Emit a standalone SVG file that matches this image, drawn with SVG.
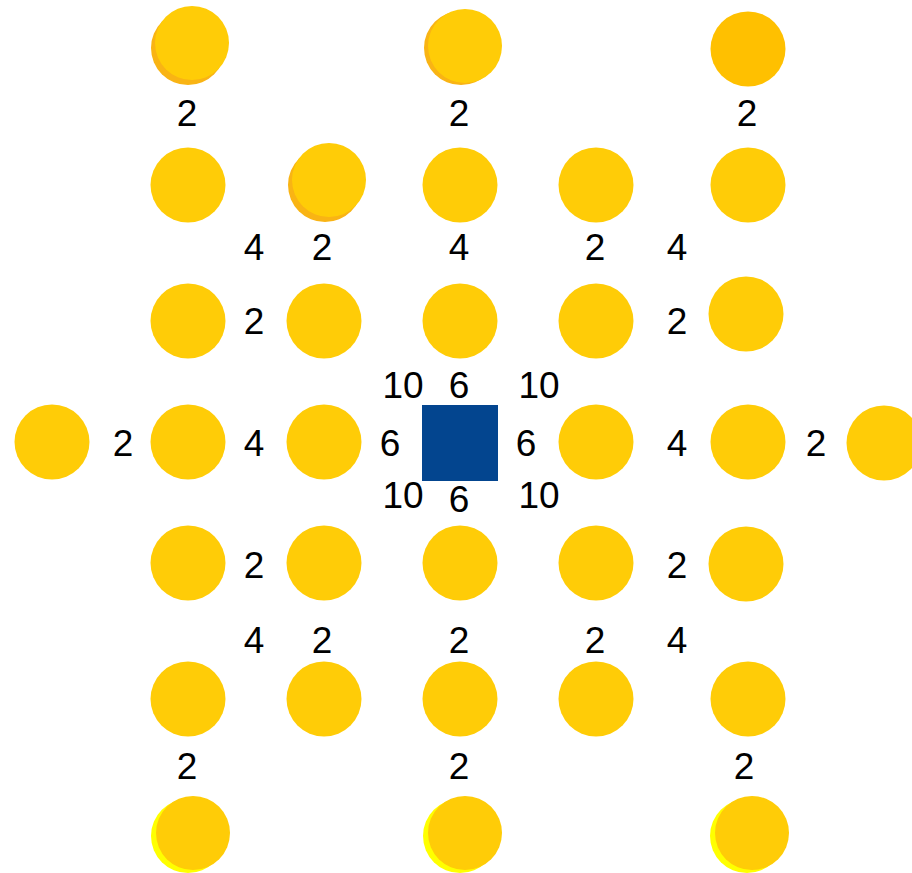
<svg xmlns="http://www.w3.org/2000/svg" width="912" height="873" viewBox="0 0 912 873">
<style>
.n{fill:#FFCC07}
.sh{fill:#F9B414}
.dk{fill:#FFC000}
.ys{fill:#FFFF00}
.sq{fill:#03458F}
text{font-family:"Liberation Sans",Arial,sans-serif;font-size:37px;fill:#000;text-anchor:middle}
</style>
<rect width="912" height="873" fill="#fff"/>
<g id="nodes">
<g id="n-r1-1"><circle class="sh" cx="188" cy="48" r="37"/><circle class="n" cx="192" cy="43" r="37"/></g>
<g id="n-r1-2"><circle class="sh" cx="461" cy="48" r="37"/><circle class="n" cx="465" cy="46" r="37"/></g>
<g id="n-r1-3"><circle class="dk" cx="748" cy="49" r="37.5"/></g>

<g id="n-r2-1"><circle class="n" cx="188" cy="185" r="37.5"/></g>
<g id="n-r2-2"><circle class="sh" cx="325" cy="185" r="37"/><circle class="n" cx="329" cy="180" r="37"/></g>
<g id="n-r2-3"><circle class="n" cx="460" cy="185" r="37.5"/></g>
<g id="n-r2-4"><circle class="n" cx="596" cy="185" r="37.5"/></g>
<g id="n-r2-5"><circle class="n" cx="748" cy="185" r="37.5"/></g>

<g id="n-r3-1"><circle class="n" cx="188" cy="321" r="37.5"/></g>
<g id="n-r3-2"><circle class="n" cx="324" cy="321" r="37.5"/></g>
<g id="n-r3-3"><circle class="n" cx="460" cy="321" r="37.5"/></g>
<g id="n-r3-4"><circle class="n" cx="596" cy="321" r="37.5"/></g>
<g id="n-r3-5"><circle class="n" cx="746" cy="314" r="37.5"/></g>

<g id="n-r4-1"><circle class="n" cx="52" cy="442" r="37.5"/></g>
<g id="n-r4-2"><circle class="n" cx="188" cy="442" r="37.5"/></g>
<g id="n-r4-3"><circle class="n" cx="324" cy="442" r="37.5"/></g>
<g id="center"><rect class="sq" x="422" y="405" width="76" height="76"/></g>
<g id="n-r4-5"><circle class="n" cx="596" cy="442" r="37.5"/></g>
<g id="n-r4-6"><circle class="n" cx="748" cy="442" r="37.5"/></g>
<g id="n-r4-7"><circle class="n" cx="884" cy="443" r="37.5"/></g>

<g id="n-r5-1"><circle class="n" cx="188" cy="563" r="37.5"/></g>
<g id="n-r5-2"><circle class="n" cx="324" cy="563" r="37.5"/></g>
<g id="n-r5-3"><circle class="n" cx="460" cy="563" r="37.5"/></g>
<g id="n-r5-4"><circle class="n" cx="596" cy="563" r="37.5"/></g>
<g id="n-r5-5"><circle class="n" cx="746" cy="564" r="37.5"/></g>

<g id="n-r6-1"><circle class="n" cx="188" cy="699" r="37.5"/></g>
<g id="n-r6-2"><circle class="n" cx="324" cy="699" r="37.5"/></g>
<g id="n-r6-3"><circle class="n" cx="460" cy="699" r="37.5"/></g>
<g id="n-r6-4"><circle class="n" cx="596" cy="699" r="37.5"/></g>
<g id="n-r6-5"><circle class="n" cx="748" cy="699" r="37.5"/></g>

<g id="n-r7-1"><circle class="ys" cx="188" cy="836" r="37"/><circle class="n" cx="193" cy="833" r="37"/></g>
<g id="n-r7-2"><circle class="ys" cx="460" cy="836" r="37"/><circle class="n" cx="465" cy="833" r="37"/></g>
<g id="n-r7-3"><circle class="ys" cx="747" cy="836" r="37"/><circle class="n" cx="752" cy="833" r="37"/></g>
</g>
<g id="connectors"></g>
<g id="labels">
<text x="187" y="126">2</text><text x="459" y="126">2</text><text x="747" y="126">2</text>
<text x="254" y="260">4</text><text x="322" y="260">2</text><text x="459" y="260">4</text><text x="595" y="260">2</text><text x="677" y="260">4</text>
<text x="254" y="334">2</text><text x="677" y="334">2</text>
<text x="403" y="398">10</text><text x="459" y="398">6</text><text x="539" y="398">10</text>
<text x="123" y="456">2</text><text x="254" y="456">4</text><text x="390" y="456">6</text><text x="526" y="456">6</text><text x="677" y="456">4</text><text x="816" y="456">2</text>
<text x="403" y="508">10</text><text x="459" y="512">6</text><text x="539" y="508">10</text>
<text x="254" y="578">2</text><text x="677" y="578">2</text>
<text x="254" y="653">4</text><text x="322" y="653">2</text><text x="459" y="653">2</text><text x="595" y="653">2</text><text x="677" y="653">4</text>
<text x="187" y="779">2</text><text x="459" y="779">2</text><text x="744" y="779">2</text>
</g>
</svg>
